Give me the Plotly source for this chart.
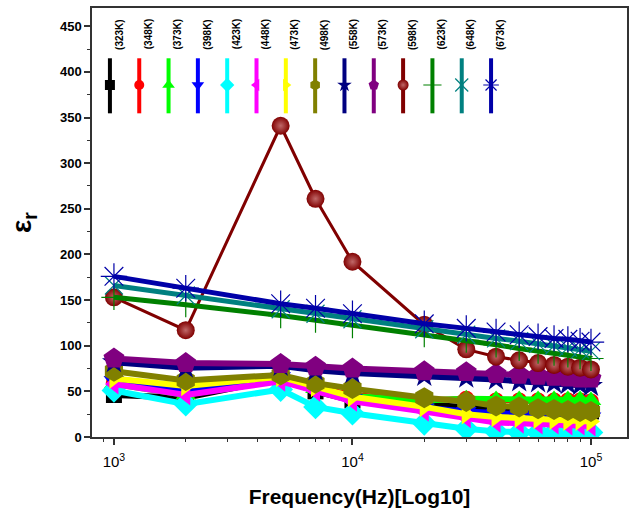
import plotly.graph_objects as go

freqs = [1000, 2000, 5000, 7000, 10000, 20000, 30000, 40000, 50000, 60000, 70000, 80000, 90000, 100000]
labels = ["(323K)", "(348K)", "(373K)", "(398K)", "(423K)", "(448K)", "(473K)",
          "(498K)", "(558K)", "(573K)", "(598K)", "(623K)", "(648K)", "(673K)"]
v323 = [46, 43, 64, 50, 40, 35, 32, 31, 30, 30, 29, 29, 28, 28]
v348 = [60, 48, 66, 54, 46, 40, 42, 40, 40, 40, 40, 40, 40, 39]
v373 = [58, 46, 65, 53, 45, 40, 42, 41, 41, 41, 41, 41, 41, 40]
v398 = [62, 50, 66, 52, 42, 32, 28, 26, 25, 24, 23, 23, 22, 22]
v423 = [51, 36, 52, 33, 26, 15, 9, 6, 5, 5, 5, 5, 5, 5]
v448 = [58, 46, 61, 50, 39, 28, 21, 16, 15, 14, 14, 13, 13, 12]
v473 = [64, 56, 66, 55, 44, 33, 25, 22, 21, 20, 19, 18, 18, 17]
v498 = [72, 62, 68, 59, 53, 43, 39, 34, 33, 31, 30, 29, 28, 28]
v558 = [82, 76, 78, 73, 70, 67, 65, 63, 61, 60, 59, 58, 57, 56]
v573 = [86, 81, 80, 77, 75, 72, 71, 69, 68, 67, 66, 65, 64, 64]
v598 = [153, 117, 341, 261, 192, 123, 96, 88, 84, 81, 79, 77, 76, 74]
v623 = [153, 145, 133, 128, 122, 112, 106, 101, 97, 94, 92, 90, 88, 86]
v648 = [166, 155, 140, 135, 129, 118, 112, 108, 105, 102, 100, 98, 96, 94]
v673 = [176, 163, 146, 141, 135, 124, 119, 115, 112, 110, 108, 107, 105, 104]
series = [v323, v348, v373, v398, v423, v448, v473, v498, v558, v573, v598, v623, v648, v673]

colors = ["#000000", "#FF0000", "#00FF00", "#0000FF", "#00FFFF", "#FF00FF", "#FFFF00",
          "#808000", "#000080", "#800080", "#800000", "#008000", "#008080", "#0000A8"]
symbols = ["square", "circle", "triangle-up", "triangle-down", "diamond", "triangle-left",
           "triangle-right", "hexagon", "star", "pentagon", "circle", "cross-thin-open",
           "x-thin-open", "asterisk-open"]
sizes = [16, 16, 18, 18, 19, 18, 18, 21, 18, 22, 18, 18, 18, 22]
widths = [6, 6, 6, 6, 6, 6, 6, 6, 6, 6, 3, 5, 5, 5]
leg_sizes = [10, 10, 11, 11, 11, 11, 11, 11, 11, 11, 11, 13, 13, 13]

FONT = "Arial, Liberation Sans, sans-serif"
fig = go.Figure()

for i, (vals, lab) in enumerate(zip(series, labels)):
    c = colors[i]
    thin = symbols[i].endswith("-open")
    marker = dict(symbol=symbols[i], size=sizes[i], color=c,
                  line=dict(color=c, width=1.2 if thin else 0))
    if i == 10:
        marker["gradient"] = dict(type="radial", color="#c06868")
    fig.add_trace(go.Scatter(x=freqs, y=vals, mode="lines+markers", name=lab,
                             line=dict(color=c, width=widths[i]), marker=marker,
                             showlegend=False))

# Origin-style legend drawn on an auxiliary unit axis
lx0, ldx = 0.0335, 0.0548
ly_bot, ly_top, ly_mid, ly_txt = 0.7545, 0.8828, 0.8205, 0.939
for i, lab in enumerate(labels):
    c = colors[i]
    xi = lx0 + i * ldx
    thin = symbols[i].endswith("-open")
    fig.add_trace(go.Scatter(x=[xi, xi], y=[ly_bot, ly_top], mode="lines",
                             line=dict(color=c, width=4), xaxis="x2", yaxis="y2",
                             showlegend=False, hoverinfo="skip"))
    mk = dict(symbol=symbols[i], size=leg_sizes[i], color=c,
              line=dict(color=c, width=1.2 if thin else 0))
    if i == 10:
        mk["gradient"] = dict(type="radial", color="#c06868")
    fig.add_trace(go.Scatter(x=[xi], y=[ly_mid], mode="markers", marker=mk,
                             xaxis="x2", yaxis="y2", showlegend=False, hoverinfo="skip"))
    fig.add_annotation(x=xi + 0.0165, y=ly_txt, xref="x2", yref="y2", text=lab,
                       textangle=-90, showarrow=False,
                       font=dict(family=FONT, size=10, color="#000000", weight="bold"))

fig.update_layout(
    width=633, height=510,
    margin=dict(l=92, r=4, t=8, b=73),
    paper_bgcolor="white", plot_bgcolor="white",
    font=dict(family=FONT, color="#000000"),
    xaxis=dict(type="log", range=[2.908, 5.151], dtick=1, exponentformat="power",
               showline=True, linecolor="#333333", linewidth=1.5, mirror=True,
               ticks="outside", ticklen=6, tickwidth=1.5, tickcolor="#333333",
               minor=dict(ticks="outside", ticklen=3, tickwidth=1, tickcolor="#333333",
                          dtick="D1", showgrid=False),
               showgrid=False, zeroline=False, ticklabelstandoff=5,
               tickfont=dict(family=FONT, size=12),
               title=dict(text="Frequency(Hz)[Log10]", standoff=20,
                          font=dict(family=FONT, size=21, weight="bold"))),
    yaxis=dict(range=[0, 470], tick0=0, dtick=50,
               showline=True, linecolor="#333333", linewidth=1.5, mirror=True,
               ticks="outside", ticklen=6, tickwidth=1.5, tickcolor="#333333",
               minor=dict(ticks="outside", ticklen=3, tickwidth=1, tickcolor="#333333",
                          dtick=25, showgrid=False),
               showgrid=False, zeroline=False,
               tickfont=dict(family=FONT, size=13, weight="bold"),
               title=dict(text="ε<sub>r</sub>", standoff=20,
                          font=dict(family=FONT, size=28, weight="bold"))),
    xaxis2=dict(domain=[0, 1], range=[0, 1], visible=False, overlaying="x",
                anchor="y2", fixedrange=True),
    yaxis2=dict(domain=[0, 1], range=[0, 1], visible=False, overlaying="y",
                anchor="x2", fixedrange=True),
)

fig.write_html("out.html")
